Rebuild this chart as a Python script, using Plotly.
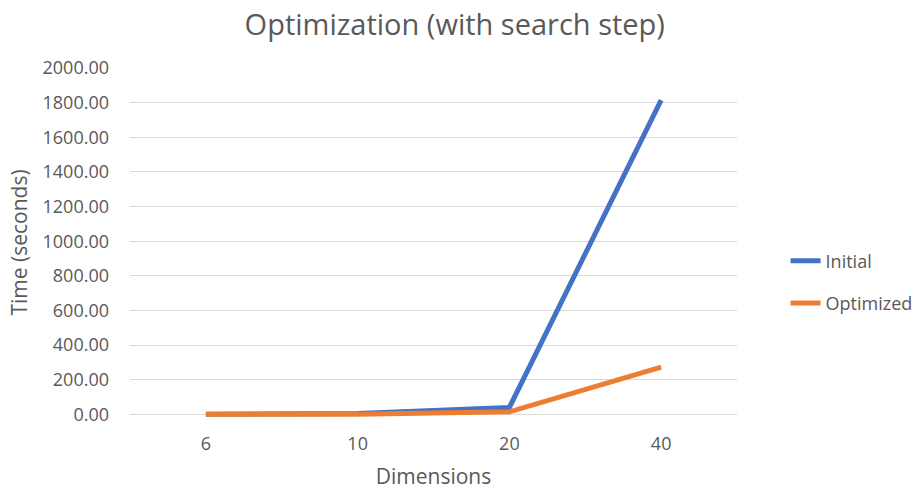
import plotly.graph_objects as go

dimensions = ["6", "10", "20", "40"]
initial_times = [1.0, 5.0, 40.0, 1815.0]
optimized_times = [0.5, 1.5, 15.0, 273.0]
y_ticks = [0, 200, 400, 600, 800, 1000, 1200, 1400, 1600, 1800, 2000]

FONT = "Open Sans"
GREY = "#595959"
GRID = "#D9D9D9"

fig = go.Figure()
fig.add_trace(go.Scatter(
    x=dimensions, y=initial_times, name="Initial", mode="lines",
    line=dict(color="#4472C4", width=5), legendgroup="a",
))
fig.add_trace(go.Scatter(
    x=dimensions, y=optimized_times, name="Optimized", mode="lines",
    line=dict(color="#ED7D31", width=5), legendgroup="b",
))

fig.update_layout(
    width=915, height=492,
    margin=dict(l=130, r=178, t=68, b=75, autoexpand=False),
    paper_bgcolor="white", plot_bgcolor="white",
    font=dict(family=FONT, color=GREY, size=18),
    title=dict(
        text="Optimization (with search step)",
        x=0.497, xanchor="center", y=0.95, yanchor="middle",
        font=dict(family=FONT, size=29, color=GREY),
    ),
    xaxis=dict(
        type="category", range=[-0.5, 3.5],
        showgrid=False, showline=False, zeroline=False, ticks="",
        ticklabelstandoff=14,
        tickfont=dict(size=18, color=GREY),
        title=dict(text="Dimensions", font=dict(size=21, color=GREY), standoff=15),
    ),
    yaxis=dict(
        range=[-15, 2000], tickvals=y_ticks,
        tickformat=".2f",
        showgrid=True, gridcolor=GRID, gridwidth=1.3,
        zeroline=True, zerolinecolor=GRID, zerolinewidth=1.3,
        showline=False, ticks="", ticklabelstandoff=20,
        tickfont=dict(size=18, color=GREY),
        title=dict(text="Time (seconds)", font=dict(size=21, color=GREY), standoff=9),
    ),
    legend=dict(
        x=1.08, xanchor="left", y=0.387, yanchor="middle",
        traceorder="grouped", tracegroupgap=16,
        font=dict(size=18, color=GREY),
        bgcolor="rgba(0,0,0,0)",
    ),
    showlegend=True,
)

fig.write_html("out.html")
